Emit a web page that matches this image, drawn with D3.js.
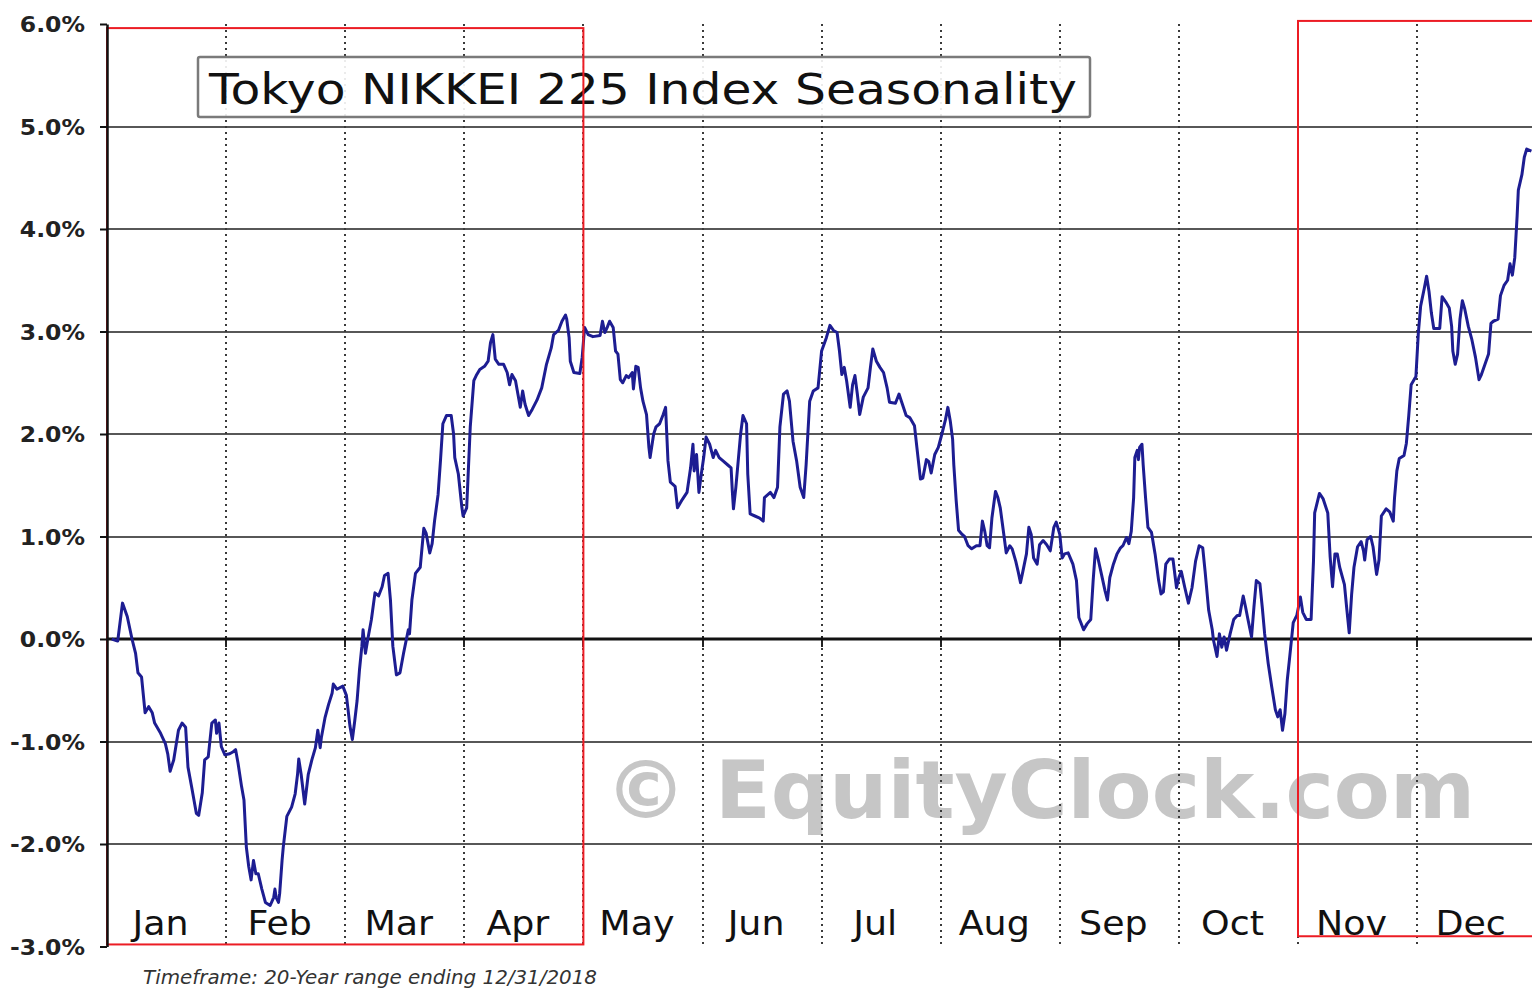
<!DOCTYPE html>
<html><head><meta charset="utf-8">
<script src="https://cdn.jsdelivr.net/npm/d3@7"></script>
<style>html,body{margin:0;padding:0;background:#fff;} svg{display:block;}</style>
</head><body>
<svg id="chart" width="1532" height="990"></svg>
<script>
// ---------- data ----------
const months = ["Jan","Feb","Mar","Apr","May","Jun","Jul","Aug","Sep","Oct","Nov","Dec"];
const yTicks = [-3,-2,-1,0,1,2,3,4,5,6];
const gridValues = [-2,-1,1,2,3,4,5];
const titleText = "Tokyo NIKKEI 225 Index Seasonality";
const footnoteText = "Timeframe: 20-Year range ending 12/31/2018";
const watermarkText = "\u00A9 EquityClock.com";
// highlighted seasonal periods (month position) and their frame extent (%)
const highlightStart = [0, 10];
const highlightEnd = [4, 12.1];
const highlightTop = [5.96, 6.03];
const highlightBottom = [-2.98, -2.9];

// position in the year in month units (0 = Jan 1, 12 = Dec 31)
const monthPos = [
0.04,0.09,0.13,0.17,0.21,0.24,0.26,0.29,0.32,0.35,0.38,0.40,0.45,0.49,0.51,0.53,0.56,0.60,0.63,0.66,
0.68,0.71,0.75,0.77,0.80,0.82,0.85,0.88,0.91,0.92,0.94,0.96,0.99,1.03,1.06,1.08,1.10,1.13,1.15,1.17,
1.19,1.21,1.23,1.25,1.27,1.30,1.33,1.37,1.40,1.41,1.42,1.44,1.45,1.47,1.48,1.51,1.55,1.58,1.60,1.61,
1.63,1.66,1.69,1.72,1.75,1.77,1.79,1.80,1.83,1.86,1.89,1.90,1.93,1.98,2.01,2.04,2.06,2.08,2.10,2.12,
2.14,2.15,2.17,2.19,2.22,2.25,2.28,2.31,2.33,2.36,2.38,2.40,2.43,2.46,2.49,2.53,2.54,2.56,2.59,2.63,
2.66,2.68,2.71,2.73,2.75,2.78,2.80,2.82,2.85,2.89,2.91,2.92,2.95,2.98,2.99,3.02,3.03,3.05,3.08,3.10,
3.13,3.17,3.20,3.22,3.24,3.26,3.29,3.33,3.36,3.38,3.40,3.43,3.45,3.47,3.49,3.51,3.54,3.57,3.61,3.65,
3.69,3.73,3.75,3.79,3.82,3.85,3.86,3.88,3.89,3.92,3.97,3.99,4.01,4.04,4.08,4.14,4.16,4.18,4.20,4.22,
4.25,4.27,4.29,4.31,4.33,4.36,4.38,4.41,4.42,4.44,4.46,4.48,4.50,4.53,4.55,4.56,4.59,4.61,4.64,4.67,
4.69,4.70,4.71,4.73,4.77,4.79,4.83,4.87,4.90,4.92,4.93,4.95,4.97,4.99,5.01,5.03,5.06,5.09,5.11,5.14,
5.17,5.21,5.24,5.25,5.26,5.28,5.30,5.32,5.34,5.37,5.38,5.40,5.44,5.48,5.51,5.52,5.57,5.60,5.63,5.65,
5.68,5.71,5.73,5.76,5.79,5.82,5.85,5.87,5.90,5.93,5.97,6.00,6.04,6.07,6.10,6.13,6.15,6.17,6.19,6.21,
6.24,6.26,6.28,6.30,6.32,6.35,6.39,6.41,6.43,6.46,6.49,6.52,6.55,6.57,6.62,6.65,6.67,6.71,6.74,6.78,
6.80,6.83,6.85,6.88,6.90,6.92,6.95,6.98,7.01,7.04,7.06,7.08,7.10,7.11,7.13,7.15,7.18,7.20,7.23,7.26,
7.30,7.33,7.35,7.37,7.39,7.41,7.43,7.46,7.48,7.50,7.53,7.55,7.58,7.60,7.63,7.65,7.67,7.69,7.72,7.74,
7.76,7.78,7.81,7.83,7.86,7.89,7.92,7.95,7.97,8.00,8.02,8.04,8.07,8.11,8.14,8.16,8.20,8.23,8.26,8.28,
8.30,8.32,8.35,8.38,8.40,8.42,8.45,8.48,8.51,8.53,8.56,8.58,8.60,8.62,8.63,8.65,8.66,8.67,8.69,8.70,
8.72,8.74,8.77,8.80,8.83,8.85,8.87,8.89,8.92,8.95,8.98,9.00,9.02,9.05,9.08,9.11,9.14,9.17,9.20,9.22,
9.25,9.28,9.29,9.32,9.34,9.36,9.38,9.40,9.43,9.46,9.49,9.51,9.54,9.56,9.58,9.61,9.63,9.65,9.68,9.70,
9.72,9.75,9.78,9.81,9.83,9.85,9.87,9.89,9.91,9.93,9.96,9.99,10.02,10.04,10.07,10.11,10.13,10.14,10.18,10.21,
10.25,10.27,10.29,10.31,10.33,10.35,10.39,10.41,10.43,10.45,10.47,10.50,10.53,10.55,10.56,10.58,10.61,10.63,10.66,10.68,
10.70,10.74,10.77,10.80,10.81,10.83,10.85,10.89,10.91,10.93,10.95,10.99,11.01,11.03,11.06,11.08,11.10,11.12,11.14,11.19,
11.21,11.24,11.27,11.29,11.30,11.32,11.34,11.36,11.38,11.40,11.43,11.46,11.49,11.52,11.54,11.57,11.60,11.62,11.64,11.68,
11.70,11.73,11.76,11.78,11.80,11.82,11.84,11.85,11.88,11.90,11.92,11.96
];
// seasonal average return (%)
const returnPct = [
0.00,-0.02,0.35,0.22,0.00,-0.14,-0.33,-0.37,-0.72,-0.66,-0.72,-0.82,-0.92,-1.02,-1.12,-1.29,-1.18,-0.89,-0.82,-0.86,
-1.25,-1.44,-1.70,-1.72,-1.50,-1.18,-1.15,-0.82,-0.79,-0.92,-0.82,-1.05,-1.13,-1.12,-1.10,-1.08,-1.21,-1.44,-1.57,-2.03,
-2.22,-2.35,-2.16,-2.29,-2.29,-2.44,-2.57,-2.60,-2.52,-2.44,-2.52,-2.57,-2.48,-2.16,-2.03,-1.73,-1.64,-1.51,-1.32,-1.17,
-1.32,-1.61,-1.32,-1.18,-1.06,-0.89,-1.06,-0.96,-0.77,-0.64,-0.53,-0.44,-0.49,-0.46,-0.55,-0.85,-0.98,-0.80,-0.60,-0.30,
-0.07,0.09,-0.14,0.00,0.19,0.45,0.42,0.51,0.62,0.64,0.38,-0.07,-0.35,-0.33,-0.14,0.09,0.05,0.38,0.64,0.70,
1.08,1.03,0.84,0.93,1.15,1.41,1.74,2.10,2.18,2.18,2.00,1.77,1.61,1.28,1.20,1.28,1.54,2.07,2.52,2.57,
2.63,2.66,2.71,2.89,2.97,2.73,2.68,2.68,2.60,2.48,2.58,2.52,2.39,2.26,2.42,2.29,2.18,2.24,2.33,2.45,
2.68,2.84,2.97,3.01,3.10,3.16,3.12,2.94,2.71,2.60,2.59,2.75,3.04,2.97,2.95,2.96,3.10,2.99,3.04,3.10,
3.04,2.81,2.78,2.53,2.50,2.57,2.55,2.60,2.44,2.66,2.65,2.45,2.32,2.19,1.87,1.77,2.00,2.07,2.10,2.19,
2.26,2.00,1.74,1.53,1.49,1.28,1.36,1.43,1.67,1.90,1.64,1.80,1.43,1.61,1.77,1.97,1.90,1.77,1.84,1.77,
1.74,1.70,1.67,1.45,1.27,1.48,1.74,2.00,2.18,2.10,1.61,1.22,1.20,1.18,1.15,1.38,1.43,1.38,1.48,2.07,
2.39,2.42,2.32,1.93,1.74,1.48,1.38,1.70,2.32,2.42,2.45,2.81,2.94,3.06,3.01,2.99,2.81,2.58,2.65,2.52,
2.26,2.48,2.57,2.39,2.19,2.36,2.45,2.65,2.83,2.71,2.65,2.60,2.45,2.31,2.30,2.39,2.32,2.18,2.16,2.08,
1.87,1.56,1.57,1.75,1.73,1.62,1.80,1.87,2.00,2.14,2.26,2.13,1.95,1.70,1.35,1.06,1.02,1.00,0.91,0.88,
0.91,0.91,1.15,1.05,0.91,0.89,1.18,1.44,1.38,1.28,1.02,0.84,0.91,0.88,0.76,0.66,0.55,0.66,0.83,1.09,
1.02,0.79,0.73,0.92,0.96,0.92,0.86,1.09,1.14,1.02,0.79,0.83,0.84,0.73,0.57,0.21,0.09,0.15,0.19,0.57,
0.88,0.79,0.63,0.47,0.38,0.60,0.73,0.83,0.89,0.91,0.99,0.93,1.05,1.38,1.77,1.84,1.75,1.87,1.90,1.70,
1.38,1.09,1.04,0.83,0.57,0.44,0.46,0.73,0.78,0.78,0.50,0.60,0.66,0.50,0.35,0.50,0.76,0.91,0.89,0.66,
0.28,0.09,-0.01,-0.17,0.05,-0.08,0.02,-0.11,0.05,0.19,0.23,0.23,0.42,0.31,0.19,0.02,0.31,0.57,0.54,0.31,
0.05,-0.24,-0.47,-0.69,-0.76,-0.69,-0.89,-0.73,-0.40,-0.18,0.16,0.23,0.41,0.26,0.19,0.19,0.76,1.23,1.42,1.37,
1.23,0.80,0.51,0.83,0.83,0.70,0.53,0.29,0.06,0.43,0.70,0.90,0.95,0.86,0.77,0.97,1.00,0.90,0.63,0.77,
1.20,1.27,1.24,1.15,1.37,1.64,1.76,1.79,1.91,2.18,2.48,2.56,2.98,3.25,3.42,3.54,3.39,3.18,3.03,3.03,
3.34,3.29,3.23,3.05,2.81,2.68,2.78,3.12,3.30,3.22,3.05,2.92,2.75,2.53,2.58,2.68,2.78,3.08,3.10,3.12,
3.35,3.45,3.50,3.66,3.55,3.72,4.13,4.38,4.53,4.70,4.78,4.76
];

// ---------- chart ----------
const FONT = "'DejaVu Sans', Verdana, sans-serif";
const svg = d3.select("#chart");
svg.append("rect").attr("width",1532).attr("height",990).attr("fill","#fff");

const x = d3.scaleLinear().domain([0, 12]).range([107, 1536.2]);
const y = d3.scaleLinear().domain([-3, 6]).range([946.5, 24]);
const plotRight = 1532;
const crisp = v => Math.round(v);

// watermark
svg.append("text")
  .attr("x", 605).attr("y", 818)
  .attr("textLength", 870).attr("lengthAdjust", "spacingAndGlyphs")
  .style("font-family", FONT).style("font-weight", "bold").style("font-size", "80px")
  .attr("fill", "#c6c6c6")
  .text(watermarkText);

// horizontal grid lines
svg.append("g").selectAll("line").data(gridValues).join("line")
  .attr("x1", x(0)).attr("x2", plotRight)
  .attr("y1", d => crisp(y(d))).attr("y2", d => crisp(y(d)))
  .attr("stroke", "#575757").attr("stroke-width", 2);

// vertical dotted month separators
svg.append("g").selectAll("line").data(d3.range(1, 12)).join("line")
  .attr("x1", d => crisp(x(d))).attr("x2", d => crisp(x(d)))
  .attr("y1", y(6)).attr("y2", y(-3))
  .attr("stroke", "#3a3a3a").attr("stroke-width", 2)
  .attr("stroke-dasharray", "2,4");

// small month ticks on zero line
svg.append("g").selectAll("line").data(d3.range(1, 12)).join("line")
  .attr("x1", d => crisp(x(d))).attr("x2", d => crisp(x(d)))
  .attr("y1", y(0) - 3).attr("y2", y(0) + 8)
  .attr("stroke", "#222").attr("stroke-width", 2);

// title box
svg.append("rect")
  .attr("x", 198).attr("y", 57).attr("width", 892).attr("height", 60).attr("rx", 2)
  .attr("fill", "#fff").attr("fill-opacity", 0.9)
  .attr("stroke", "#7a7a7a").attr("stroke-width", 2.5);
svg.append("text")
  .attr("x", 209).attr("y", 104)
  .attr("textLength", 868).attr("lengthAdjust", "spacingAndGlyphs")
  .style("font-family", FONT).style("font-size", "42px")
  .attr("fill", "#111")
  .text(titleText);

// zero line
svg.append("line")
  .attr("x1", x(0)).attr("x2", plotRight)
  .attr("y1", crisp(y(0))).attr("y2", crisp(y(0)))
  .attr("stroke", "#111").attr("stroke-width", 3);

// seasonal line
const series = monthPos.map((p, i) => [p, returnPct[i]]);
svg.append("path")
  .datum(series)
  .attr("fill", "none")
  .attr("stroke", "#1d1d92")
  .attr("stroke-width", 3)
  .attr("stroke-linejoin", "round")
  .attr("d", d3.line().x(d => x(d[0])).y(d => y(d[1])));

// highlighted periods (red frames)
svg.append("g").selectAll("rect").data(highlightStart).join("rect")
  .attr("x", (d) => x(d))
  .attr("y", (d, i) => y(highlightTop[i]))
  .attr("width", (d, i) => x(highlightEnd[i]) - x(d))
  .attr("height", (d, i) => y(highlightBottom[i]) - y(highlightTop[i]))
  .attr("fill", "none").attr("stroke", "#ec1c24").attr("stroke-width", 2);

// y axis
const yAxis = d3.axisLeft(y).tickValues(yTicks).tickSize(7).tickSizeOuter(0)
  .tickFormat(d => d.toFixed(1) + "%");
const gy = svg.append("g").attr("transform", `translate(${x(0)},0)`).call(yAxis);
gy.select(".domain").attr("stroke", "#111").attr("stroke-width", 2.5);
gy.selectAll(".tick line").attr("stroke", "#111").attr("stroke-width", 2);
gy.selectAll(".tick text")
  .attr("x", -22 / 1.12).attr("dy", "0.36em")
  .attr("transform", "scale(1.12,1)")
  .attr("fill", "#222")
  .style("font-family", FONT).style("font-weight", "bold").style("font-size", "21px");

// month labels
svg.append("g").selectAll("text").data(months).join("text")
  .attr("transform", (d, i) => `translate(${x(i + 0.5) - 6},935) scale(1.07,1)`)
  .attr("text-anchor", "middle")
  .style("font-family", FONT).style("font-size", "34px")
  .attr("fill", "#111")
  .text(d => d);

// footnote
svg.append("text")
  .attr("x", 143).attr("y", 984)
  .attr("textLength", 454).attr("lengthAdjust", "spacingAndGlyphs")
  .style("font-family", FONT).style("font-style", "italic").style("font-size", "19px")
  .attr("fill", "#333")
  .text(footnoteText);
</script>
</body></html>
